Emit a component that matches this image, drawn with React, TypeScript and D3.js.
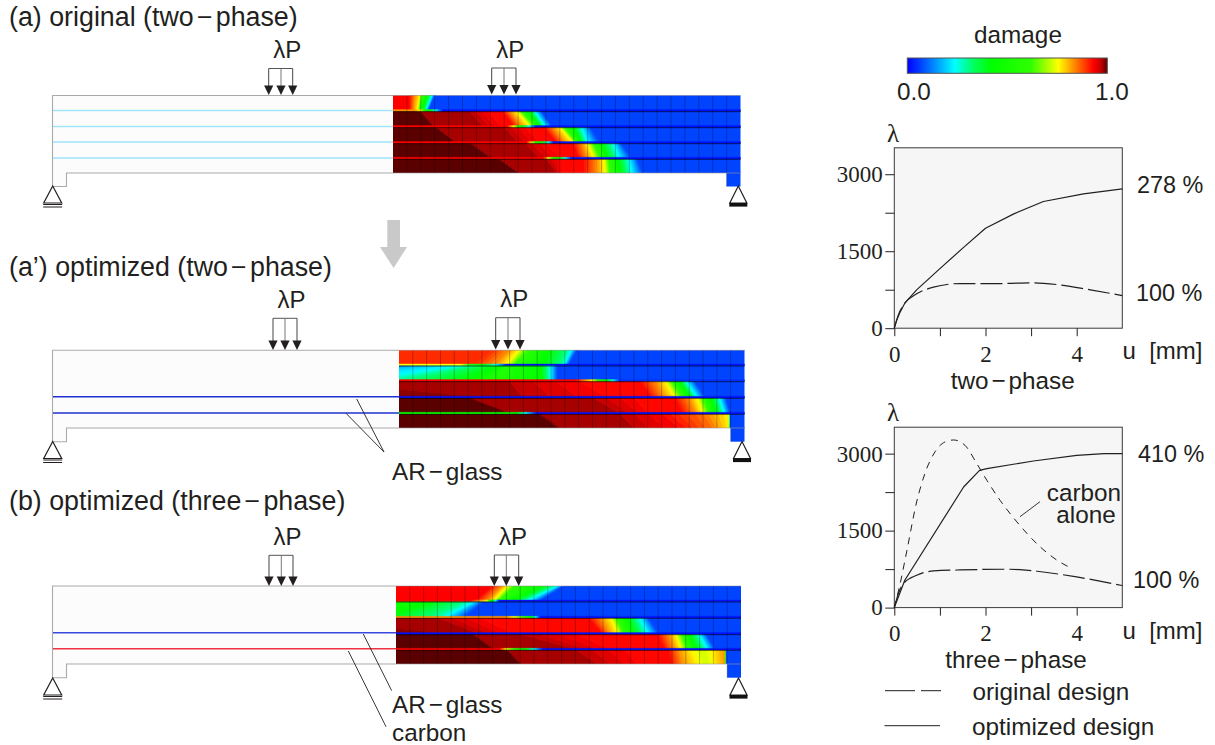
import React, { useEffect, useId, useRef } from "react";
import * as d3 from "d3";

const SANS = "'Liberation Sans', Arial, sans-serif";
const SERIF = "'Liberation Serif', 'Times New Roman', serif";
const INK = "#231f20";

// each contour is [damage, column at layer top, column at layer bottom]
type Contour = [number, number, number];

const damageLevels = [0, 0.07, 0.238, 0.33, 0.42, 0.62, 0.755, 0.83, 0.93, 0.97, 0.985, 1];
const damageColors = ["#0000ff", "#0044ff", "#00ffff", "#00ff60", "#00ff00", "#30ff00", "#ffff00", "#ff9000", "#ff0000", "#c00000", "#8c0000", "#5a0000"];

const originalLayers: Contour[][] = [
  [[0.93, 1.2, 1.2], [0.83, 1.6, 1.5], [0.755, 2.0, 1.8], [0.6, 2.1, 1.95], [0.42, 2.5, 2.15], [0.238, 2.85, 2.4], [0.07, 3.05, 2.6]],
  [[1, 1.9, 2.9], [0.985, 2.0, 3.0], [0.97, 5.5, 6.5], [0.93, 6.8, 7.8], [0.92, 7.9, 8.8], [0.83, 8.4, 9.3], [0.755, 8.9, 9.9], [0.6, 9.3, 10.3], [0.42, 9.8, 10.6], [0.238, 10.2, 11.0], [0.07, 10.7, 11.5]],
  [[1, 3, 4.5], [0.985, 3.1, 4.6], [0.97, 8, 9], [0.93, 9.5, 10.5], [0.92, 10.9, 11.8], [0.83, 11.5, 12.4], [0.755, 12, 13], [0.6, 12.4, 13.3], [0.42, 13, 13.6], [0.238, 13.6, 14.0], [0.07, 14.2, 14.9]],
  [[1, 5.5, 7], [0.985, 5.6, 7.2], [0.97, 9.5, 10.5], [0.93, 11, 12], [0.92, 13, 13.4], [0.83, 13.6, 14], [0.755, 14, 14.5], [0.6, 14.5, 15], [0.42, 15, 15.5], [0.238, 15.9, 16.3], [0.07, 16.4, 17.2]],
  [[1, 7.5, 9], [0.985, 7.6, 9.1], [0.97, 11, 11.8], [0.93, 12, 12.1], [0.92, 13.8, 13.8], [0.83, 14.7, 14.7], [0.755, 15.2, 15.3], [0.6, 15.6, 15.7], [0.42, 16.2, 16.4], [0.238, 17.0, 17.2], [0.07, 17.6, 18]],
];
const originalBond: number[][][] = [
  [[0.83, 1.5], [0.755, 2], [0.42, 2.6], [0.238, 3.1], [0.02, 3.6]],
  [[0.93, 8.2], [0.755, 8.7], [0.42, 9.3], [0.238, 9.8], [0.02, 10.3]],
  [[0.93, 9.6], [0.755, 10], [0.42, 10.6], [0.238, 11.2], [0.02, 11.6]],
  [[0.93, 10.8], [0.755, 11.2], [0.42, 11.9], [0.238, 12.4], [0.02, 12.9]],
];

const optimizedTwoLayers: Contour[][] = [
  [[0.9, 6.8, 5.5], [0.83, 8, 7], [0.755, 8.7, 7.8], [0.6, 9.4, 8.5], [0.42, 11, 10.5], [0.3, 12.2, 11.8], [0.238, 12.5, 12], [0.07, 12.9, 12.3]],
  [[0.07, 0.5, -30], [0.238, 5, -3], [0.42, 7.4, 5], [0.55, 8, 7], [0.42, 10.3, 10.4], [0.238, 11, 11], [0.07, 11.5, 11.5]],
  [[0.985, -6, 6], [0.97, 8, 9], [0.93, 13, 15], [0.92, 17.5, 18.3], [0.83, 18.6, 19.2], [0.755, 19.3, 20], [0.6, 19.8, 20.6], [0.42, 20.3, 21.1], [0.238, 20.8, 21.6], [0.07, 21.4, 22.2]],
  [[1, 5, 8], [0.985, 5.1, 8.1], [0.97, 14, 16], [0.93, 17, 18], [0.92, 20, 20.6], [0.83, 21, 21.5], [0.755, 21.6, 22], [0.6, 22.1, 22.5], [0.42, 22.6, 23], [0.238, 23.2, 23.6], [0.07, 23.7, 24]],
  [[1, 10, 11.5], [0.985, 10.2, 11.7], [0.97, 16, 17], [0.93, 19, 20.3], [0.85, 22, 22.7], [0.76, 23.9, 23.95], [0.07, 24, 24]],
];
const optimizedTwoBond: number[][][] = [
  [[0.755, 4.5], [0.42, 6], [0.238, 7], [0.02, 7.8]],
  [[0.93, 12.8], [0.755, 14], [0.42, 15], [0.05, 16]],
  [[0.02, 0], [0.02, 25]],
  [[0.45, 8.3], [0.238, 9.2], [0.02, 10]],
];

const optimizedThreeLayers: Contour[][] = [
  [[0.93, 7, 5.8], [0.83, 7.7, 6.7], [0.755, 8.1, 7.1], [0.6, 8.7, 7.5], [0.42, 10.8, 8.5], [0.238, 11.8, 9.6], [0.07, 12.2, 10.5]],
  [[0.62, -3, -6], [0.42, 3, -1], [0.3, 5.2, 2.8], [0.238, 5.8, 3.6], [0.07, 6.5, 5]],
  [[0.985, -8, 4], [0.97, 3, 6], [0.93, 6, 8.5], [0.92, 14, 15], [0.83, 14.9, 15.5], [0.755, 15.6, 16.1], [0.6, 16.1, 16.6], [0.42, 16.8, 17.3], [0.238, 17.7, 18.3], [0.07, 18.3, 19.1]],
  [[1, 5.5, 7], [0.985, 5.6, 7.2], [0.97, 9, 13], [0.93, 13, 15.5], [0.92, 19, 19.5], [0.83, 19.8, 20.2], [0.755, 20.3, 20.7], [0.6, 20.8, 21.2], [0.42, 21.3, 21.8], [0.238, 22, 22.6], [0.07, 22.5, 23.2]],
  [[1, 8, 9], [0.985, 8.1, 9.1], [0.97, 13, 14.6], [0.93, 16.5, 17.5], [0.92, 19.8, 20], [0.83, 20.5, 20.8], [0.755, 21.5, 22], [0.72, 22.3, 22.5], [0.83, 23.9, 23.9], [0.07, 24, 24]],
];
const optimizedThreeBond: number[][][] = [
  [[0.93, 5.4], [0.755, 6.6], [0.02, 7.5]],
  [[0.83, 8], [0.6, 9.5], [0.02, 10.5]],
  [[0.02, 0], [0.02, 25]],
  [[0.93, 7.5], [0.755, 8], [0.42, 9.3], [0.238, 10], [0.02, 10.7]],
];

const twoOriginalU = [0, 0.09, 0.23, 0.49, 0.86, 1.44, 2.32, 3.05, 3.57, 4.3, 5];
const twoOriginalL = [0, 260, 487, 669, 800, 870, 870, 883, 850, 747, 636];
const twoOptimizedU = [0, 0.05, 0.12, 0.23, 0.49, 1.0, 1.52, 2.0, 2.62, 3.27, 4.15, 5];
const twoOptimizedL = [0, 150, 300, 487, 747, 1160, 1575, 1948, 2227, 2468, 2617, 2714];

const threeOriginalU = [0, 0.1, 0.2, 0.49, 0.86, 1.44, 2.54, 3.13, 4, 5];
const threeOriginalL = [0, 300, 468, 630, 714, 734, 747, 708, 597, 429];
const threeOptimizedU = [0, 0.23, 1.52, 1.87, 2.03, 3.05, 4, 4.6, 5];
const threeOptimizedL = [0, 532, 2350, 2675, 2708, 2857, 2967, 3000, 3000];
const carbonU = [0, 0.12, 0.27, 0.49, 0.67, 0.89, 1.11, 1.3, 1.55, 1.81, 2.03, 2.32, 2.69, 3.2, 3.57, 3.9];
const carbonL = [0, 435, 1084, 2058, 2610, 3032, 3227, 3266, 3162, 2805, 2480, 2090, 1669, 1182, 922, 760];

const uTicks = [0, 1, 2, 3, 4];
const uLabels = [0, 2, 4];
const lambdaTicks = [0, 750, 1500, 2250, 3000];
const lambdaLabels = [0, 1500, 3000];

const damageColor = d3.scaleLinear<string>().domain(damageLevels).range(damageColors).interpolate(d3.interpolateRgb);

function bandPolygons(stops: Contour[], col: d3.ScaleLinear<number, number>, y0: number, y1: number) {
  // filled contour slices between neighbouring isolines, like the FE plot
  const out: { pts: string; fill: string }[] = [];
  const poly = (a0: number, a1: number, b0: number, b1: number) =>
    `${col(a0)},${y0} ${col(b0)},${y0} ${col(b1)},${y1} ${col(a1)},${y1}`;
  const first = stops[0];
  const last = stops[stops.length - 1];
  out.push({ pts: poly(-60, -60, first[1], first[2]), fill: damageColor(first[0]) });
  for (let i = 0; i < stops.length - 1; i++) {
    const [d0, t0, b0] = stops[i];
    const [d1, t1, b1] = stops[i + 1];
    const n = Math.max(1, Math.ceil(Math.abs(d1 - d0) / 0.018));
    for (let k = 0; k < n; k++) {
      const f0 = k / n;
      const f1 = (k + 1) / n;
      out.push({
        pts: poly(t0 + (t1 - t0) * f0, b0 + (b1 - b0) * f0, t0 + (t1 - t0) * f1, b0 + (b1 - b0) * f1),
        fill: damageColor(d0 + (d1 - d0) * ((k + 0.5) / n)),
      });
    }
  }
  out.push({ pts: poly(last[1], last[2], 60, 60), fill: damageColor(last[0]) });
  return out;
}

function Arrows({ xs, top, tip }: { xs: number[]; top: number; tip: number }) {
  return (
    <g>
      <path d={`M${xs[0]},${top}H${xs[2]}`} stroke="#555" strokeWidth={1} fill="none" />
      {xs.map((x, i) => (
        <g key={i}>
          <line x1={x} x2={x} y1={top} y2={tip - 8} stroke={i === 1 ? "#777" : "#444"} strokeWidth={1} />
          <path d={`M${x - 4.6},${tip - 9.5}H${x + 4.6}L${x},${tip}Z`} fill={INK} />
        </g>
      ))}
      <text x={(xs[0] + xs[2]) / 2 + 6.5} y={top - 10.5} textAnchor="middle" fontFamily={SANS} fontSize={24} fill={INK}>λP</text>
    </g>
  );
}

function Supports({ left, right, y }: { left: number; right: number; y: number }) {
  return (
    <g fill="none" stroke={INK} strokeWidth={1.2}>
      <path d={`M${left},${y}L${left - 9},${y + 17}H${left + 9}Z`} fill="#fff" />
      <path d={`M${left - 9.5},${y + 18.5}H${left + 9.5}M${left - 9.5},${y + 21}H${left + 9.5}`} />
      <path d={`M${right},${y}L${right - 8.5},${y + 17}H${right + 8.5}Z`} fill="#fff" />
      <rect x={right - 9} y={y + 17} width={18} height={3.6} fill="#111" stroke="none" />
    </g>
  );
}

type BeamProps = {
  leftX: number; mapX0: number; mapX1: number;
  top: number; bottom: number; seats: number[]; footY: number;
  layers: Contour[][]; bond: number[][][];
};

function DamageMap({ mapX0, mapX1, top, bottom, seats, footY, layers, bond }: BeamProps) {
  const id = useId().replace(/:/g, "");
  const col = d3.scaleLinear().domain([0, 25]).range([mapX0, mapX1]);
  const rows = [top, ...seats, bottom];
  return (
    <g>
      <clipPath id={id}><rect x={mapX0} y={top} width={mapX1 - mapX0} height={bottom - top} /></clipPath>
      <g clipPath={`url(#${id})`}>
        {layers.map((stops, i) =>
          bandPolygons(stops, col, rows[i], rows[i + 1]).map((b, k) => (
            <polygon key={`${i}-${k}`} points={b.pts} fill={b.fill} stroke={b.fill} strokeWidth={0.9} />
          ))
        )}
        {bond.map((stops, i) =>
          bandPolygons(stops.map((s) => [s[0], s[1], s[1]] as Contour), col, seats[i] - 1.1, seats[i] + 0.6).map((b, k) => (
            <polygon key={`b${i}-${k}`} points={b.pts} fill={b.fill} stroke={b.fill} strokeWidth={0.3} />
          ))
        )}
      </g>
      <rect x={col(24)} y={bottom - 0.5} width={col(25) - col(24)} height={footY - bottom + 0.5} fill={damageColor(0.07)} />
      {d3.range(1, 25).map((c) => (
        <line key={c} x1={col(c)} x2={col(c)} y1={top} y2={c === 24 ? footY : bottom} stroke="#000" strokeOpacity={0.32} strokeWidth={0.8} />
      ))}
      {seats.map((s) => (
        <line key={s} x1={mapX0} x2={mapX1} y1={s + 1} y2={s + 1} stroke="#000" strokeOpacity={0.7} strokeWidth={0.9} />
      ))}
      <line x1={mapX0} x2={mapX1} y1={top} y2={top} stroke="#888" strokeOpacity={0.5} />
      <line x1={mapX0} x2={mapX1} y1={bottom} y2={bottom} stroke="#999" strokeOpacity={0.6} />
    </g>
  );
}

function Outline({ leftX, mapX0, top, bottom, footY }: BeamProps) {
  const stepX = leftX + 14;
  return (
    <path
      d={`M${mapX0},${top}H${leftX}V${footY}H${stepX}V${bottom}H${mapX0}`}
      fill="#fcfcfc" stroke="#aaa" strokeWidth={1.1}
    />
  );
}

function Axis({ kind, scale, values, labels, at }: { kind: "x" | "y"; scale: d3.ScaleLinear<number, number>; values: number[]; labels: number[]; at: number }) {
  const ref = useRef<SVGGElement>(null);
  useEffect(() => {
    const fmt = (d: d3.NumberValue) => (labels.includes(+d) ? String(d) : "");
    const axis = kind === "x"
      ? d3.axisBottom(scale).tickValues(values).tickFormat(fmt).tickSize(8).tickPadding(9.5)
      : d3.axisLeft(scale).tickValues(values).tickFormat(fmt).tickSize(9).tickPadding(2.5);
    const g = d3.select(ref.current!);
    g.call(axis as any);
    g.select(".domain").remove();
    g.selectAll("line").attr("stroke", INK).attr("stroke-width", 1);
    g.selectAll("text").attr("font-family", SERIF).attr("font-size", 23).attr("fill", INK);
  }, []);
  return <g ref={ref} transform={kind === "x" ? `translate(0,${at})` : `translate(${at},0)`} />;
}

function Plot({ top, children }: { top: number; children: (x: d3.ScaleLinear<number, number>, y: d3.ScaleLinear<number, number>) => React.ReactNode }) {
  const bottom = top + 180.4;
  const x = d3.scaleLinear().domain([0, 5]).range([894.3, 1122.3]);
  const y = d3.scaleLinear().domain([0, 3515]).range([bottom, top]);
  return (
    <g>
      <rect x={894.3} y={top} width={228} height={180.4} fill="#f6f6f6" stroke="#3a3a3a" strokeWidth={1} />
      <Axis kind="x" scale={x} values={uTicks} labels={uLabels} at={bottom} />
      <Axis kind="y" scale={y} values={lambdaTicks} labels={lambdaLabels} at={894.3} />
      {children(x, y)}
      <text x={887} y={top - 6} fontFamily={SERIF} fontSize={25} fill={INK}>λ</text>
      <text x={1122.5} y={bottom + 31} fontFamily={SANS} fontSize={24} fill={INK} xmlSpace="preserve">u  [mm]</text>
    </g>
  );
}

function Curve({ us, ls, x, y, dash, width = 1.2, straight }: { us: number[]; ls: number[]; x: d3.ScaleLinear<number, number>; y: d3.ScaleLinear<number, number>; dash?: string; width?: number; straight?: boolean }) {
  const line = d3.line<number>().x((u) => x(u)).y((_, i) => y(ls[i])).curve(straight ? d3.curveLinear : d3.curveMonotoneX);
  return <path d={line(us) || ""} fill="none" stroke={INK} strokeWidth={width} strokeDasharray={dash} strokeLinejoin="round" />;
}

// the source set its hyphens as long minus signs with air on both sides
const T = ({ x, y, size = 24.3, anchor, children }: { x: number; y: number; size?: number; anchor?: string; children: string }) => {
  const parts = children.split("−");
  return (
    <text x={x} y={y} fontFamily={SANS} fontSize={size} fill={INK} textAnchor={anchor as any}>
      {parts.length === 1
        ? children
        : (
          <>
            {parts[0]}
            <tspan dx={size * 0.12}>−</tspan>
            <tspan dx={size * 0.12}>{parts[1]}</tspan>
          </>
        )}
    </text>
  );
};

export default function App() {
  const beamA: BeamProps = { leftX: 52.5, mapX0: 393, mapX1: 740.5, top: 95.5, bottom: 173, seats: [110.7, 126.7, 142.7, 158.3], footY: 186.5, layers: originalLayers, bond: originalBond };
  const beamB: BeamProps = { leftX: 52.5, mapX0: 399, mapX1: 744.5, top: 350.3, bottom: 428, seats: [365, 380.7, 397.3, 413.3], footY: 441.7, layers: optimizedTwoLayers, bond: optimizedTwoBond };
  const beamC: BeamProps = { leftX: 52.5, mapX0: 396, mapX1: 741, top: 586, bottom: 664, seats: [601, 617.3, 633.7, 649.3], footY: 677.7, layers: optimizedThreeLayers, bond: optimizedThreeBond };

  const legendStops = damageLevels.map((d, i) => ({ offset: d, color: damageColors[i] }));

  return (
    <svg width={1215} height={745} viewBox="0 0 1215 745" style={{ position: "absolute", left: 0, top: 0, background: "#fff" }}>
      <defs>
        <linearGradient id="damage-legend" x1="0" x2="1" y1="0" y2="0">
          {legendStops.map((s) => <stop key={s.offset} offset={s.offset} stopColor={s.color} />)}
        </linearGradient>
      </defs>

      <T x={9} y={26} size={26.8}>(a) original (two−phase)</T>
      <T x={9} y={276} size={26.8}>(a’) optimized (two−phase)</T>
      <T x={9} y={510} size={26.8}>(b) optimized (three−phase)</T>

      <Outline {...beamA} />
      {[110.5, 126.5, 142, 158].map((y) => (
        <line key={y} x1={53} x2={393} y1={y} y2={y} stroke="#9fe4fa" strokeWidth={1.5} />
      ))}
      <DamageMap {...beamA} />
      <Arrows xs={[268.7, 281, 292.7]} top={68.5} tip={95} />
      <Arrows xs={[491.7, 504, 516]} top={68} tip={94.5} />
      <Supports left={52.7} right={738.3} y={186} />

      <path d="M387.3,220H400V247H407L393.6,268L380,247H387.3Z" fill="#c9c9c9" />

      <Outline {...beamB} />
      {[396.7, 413].map((y) => (
        <line key={y} x1={53} x2={399} y1={y} y2={y} stroke="#2030d0" strokeWidth={1.6} />
      ))}
      <DamageMap {...beamB} />
      <Arrows xs={[273, 285, 297]} top={318.3} tip={350} />
      <Arrows xs={[495.7, 508, 520]} top={317.7} tip={349.5} />
      <Supports left={52.7} right={742} y={441.5} />
      <path d="M356.7,399L384,452L346,413.3" fill="none" stroke={INK} strokeWidth={0.9} />
      <T x={392} y={480}>AR−glass</T>

      <Outline {...beamC} />
      <line x1={53} x2={396} y1={632.7} y2={632.7} stroke="#3a48e0" strokeWidth={1.6} />
      <line x1={53} x2={396} y1={648.7} y2={648.7} stroke="#f03040" strokeWidth={1.6} />
      <DamageMap {...beamC} />
      <Arrows xs={[269, 281.3, 293]} top={555.3} tip={586} />
      <Arrows xs={[494.3, 506.3, 518.7]} top={555} tip={586} />
      <Supports left={52.7} right={738.5} y={678} />
      <line x1={363.3} y1={634} x2={391.7} y2={690.7} stroke={INK} strokeWidth={0.9} />
      <line x1={348.3} y1={651} x2={386} y2={726.7} stroke={INK} strokeWidth={0.9} />
      <T x={392} y={713}>AR−glass</T>
      <T x={392} y={741}>carbon</T>

      <T x={1018} y={43} anchor="middle">damage</T>
      <rect x={907.3} y={58} width={200} height={15.3} fill="url(#damage-legend)" stroke="#555" strokeWidth={1} />
      <T x={897} y={100}>0.0</T>
      <T x={1095} y={100}>1.0</T>

      <Plot top={147.8}>
        {(x, y) => (
          <>
            <Curve us={twoOptimizedU} ls={twoOptimizedL} x={x} y={y} straight />
            <Curve us={twoOriginalU} ls={twoOriginalL} x={x} y={y} dash="22,5" />
          </>
        )}
      </Plot>
      <T x={1137} y={193} size={23.4}>278 %</T>
      <T x={1136} y={301} size={23.4}>100 %</T>
      <T x={1012.7} y={389} anchor="middle">two−phase</T>

      <Plot top={427.2}>
        {(x, y) => (
          <>
            <Curve us={threeOptimizedU} ls={threeOptimizedL} x={x} y={y} straight />
            <Curve us={threeOriginalU} ls={threeOriginalL} x={x} y={y} dash="22,5" />
            <Curve us={carbonU} ls={carbonL} x={x} y={y} dash="7,6" width={1} />
          </>
        )}
      </Plot>
      <T x={1138} y={462} size={23.4}>410 %</T>
      <T x={1133} y={588} size={23.4}>100 %</T>
      <T x={1084} y={501} anchor="middle">carbon</T>
      <T x={1086} y={523} anchor="middle">alone</T>
      <line x1={1040} y1={501.7} x2={1020} y2={516.7} stroke={INK} strokeWidth={0.9} />
      <T x={1016} y={668} anchor="middle">three−phase</T>
      <path d="M885,690.7H915M921,690.7H941" stroke={INK} strokeWidth={1} fill="none" />
      <T x={972.5} y={700}>original design</T>
      <line x1={884.5} x2={940} y1={725.7} y2={725.7} stroke={INK} strokeWidth={1} />
      <T x={972} y={735}>optimized design</T>
    </svg>
  );
}
